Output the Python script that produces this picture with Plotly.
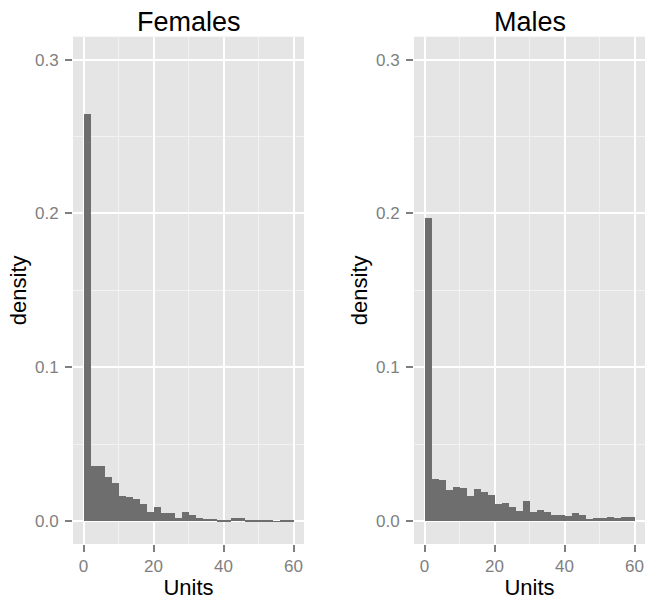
import plotly.graph_objects as go

# Bin edges (width 2, from 0 to 60)
bin_starts = [0, 2, 4, 6, 8, 10, 12, 14, 16, 18, 20, 22, 24, 26, 28,
              30, 32, 34, 36, 38, 40, 42, 44, 46, 48, 50, 52, 54, 56, 58]
bin_width = 2

females_density = [0.265, 0.0362, 0.0357, 0.0288, 0.0251, 0.0165, 0.0156, 0.0145,
                   0.0110, 0.0058, 0.0093, 0.0052, 0.0052, 0.0024, 0.0060, 0.0039,
                   0.0022, 0.0015, 0.0015, 0.0009, 0.0005, 0.0022, 0.0020, 0.0009,
                   0.0005, 0.0003, 0.0003, 0.0001, 0.0002, 0.0010]

males_density = [0.197, 0.0275, 0.0270, 0.0206, 0.0221, 0.0219, 0.0162, 0.0212,
                 0.0193, 0.0173, 0.0110, 0.0119, 0.0093, 0.0067, 0.0132, 0.0058,
                 0.0076, 0.0060, 0.0043, 0.0041, 0.0037, 0.0052, 0.0039, 0.0015,
                 0.0024, 0.0022, 0.0026, 0.0022, 0.0026, 0.0026]

panel_titles = ["Females", "Males"]
x_ticks = [0, 20, 40, 60]
y_ticks = [0.0, 0.1, 0.2, 0.3]
y_tick_labels = ["0.0", "0.1", "0.2", "0.3"]

W, H = 646, 600
centers = [s + bin_width / 2 for s in bin_starts]

fig = go.Figure()
BAR = "#6E6E6E"
fig.add_trace(go.Bar(x=centers, y=females_density, width=bin_width,
                     marker=dict(color=BAR, line=dict(width=0)),
                     xaxis="x", yaxis="y", showlegend=False))
fig.add_trace(go.Bar(x=centers, y=males_density, width=bin_width,
                     marker=dict(color=BAR, line=dict(width=0)),
                     xaxis="x2", yaxis="y2", showlegend=False))

dom_x1 = [73 / W, 304 / W]
dom_x2 = [414 / W, 645 / W]
dom_y = [1 - 544 / H, 1 - 36.7 / H]

FONT = "Liberation Sans, Arial, sans-serif"
tick_font = dict(family=FONT, size=17, color="#7F7F7F")
title_font = dict(family=FONT, size=22, color="#000000")


def xaxis(domain, anchor):
    return dict(domain=domain, anchor=anchor, range=[-3, 63], automargin=False,
                tickmode="array", tickvals=x_ticks, ticktext=[str(v) for v in x_ticks],
                ticks="outside", ticklen=7, tickwidth=1.5, tickcolor="#7F7F7F",
                tickfont=tick_font, showgrid=True, gridcolor="#FFFFFF", gridwidth=1.5,
                minor=dict(tickvals=[10, 30, 50], showgrid=True, gridcolor="#F2F2F2",
                           gridwidth=0.8, ticks=""),
                zeroline=False, showline=False,
                title=dict(text="Units", font=title_font, standoff=4))


def yaxis(domain, anchor):
    return dict(domain=domain, anchor=anchor, range=[-0.015, 0.315], automargin=False,
                tickmode="array", tickvals=y_ticks, ticktext=y_tick_labels,
                ticks="outside", ticklen=7, tickwidth=1.5, tickcolor="#7F7F7F",
                tickfont=tick_font, ticklabelstandoff=3,
                showgrid=True, gridcolor="#FFFFFF", gridwidth=1.5,
                minor=dict(tickvals=[0.05, 0.15, 0.25], showgrid=True, gridcolor="#F2F2F2",
                           gridwidth=0.8, ticks=""),
                zeroline=False, showline=False,
                title=dict(text="density", font=title_font, standoff=2))


fig.update_layout(
    width=W, height=H,
    margin=dict(l=0, r=0, t=0, b=0),
    paper_bgcolor="#FFFFFF",
    plot_bgcolor="#E5E5E5",
    bargap=0,
    hovermode=False,
    xaxis=xaxis(dom_x1, "y"),
    yaxis=yaxis(dom_y, "x"),
    xaxis2=xaxis(dom_x2, "y2"),
    yaxis2=yaxis(dom_y, "x2"),
    annotations=[
        dict(text=panel_titles[0], x=(dom_x1[0] + dom_x1[1]) / 2, y=1 - 22 / H,
             xref="paper", yref="paper", showarrow=False,
             font=dict(family=FONT, size=27, color="#000000"),
             xanchor="center", yanchor="middle"),
        dict(text=panel_titles[1], x=(dom_x2[0] + dom_x2[1]) / 2, y=1 - 22 / H,
             xref="paper", yref="paper", showarrow=False,
             font=dict(family=FONT, size=27, color="#000000"),
             xanchor="center", yanchor="middle"),
    ],
)

fig.write_html("out.html", config={"displayModeBar": False},
               post_script="document.body.style.margin='0';document.body.style.overflow='hidden';")
